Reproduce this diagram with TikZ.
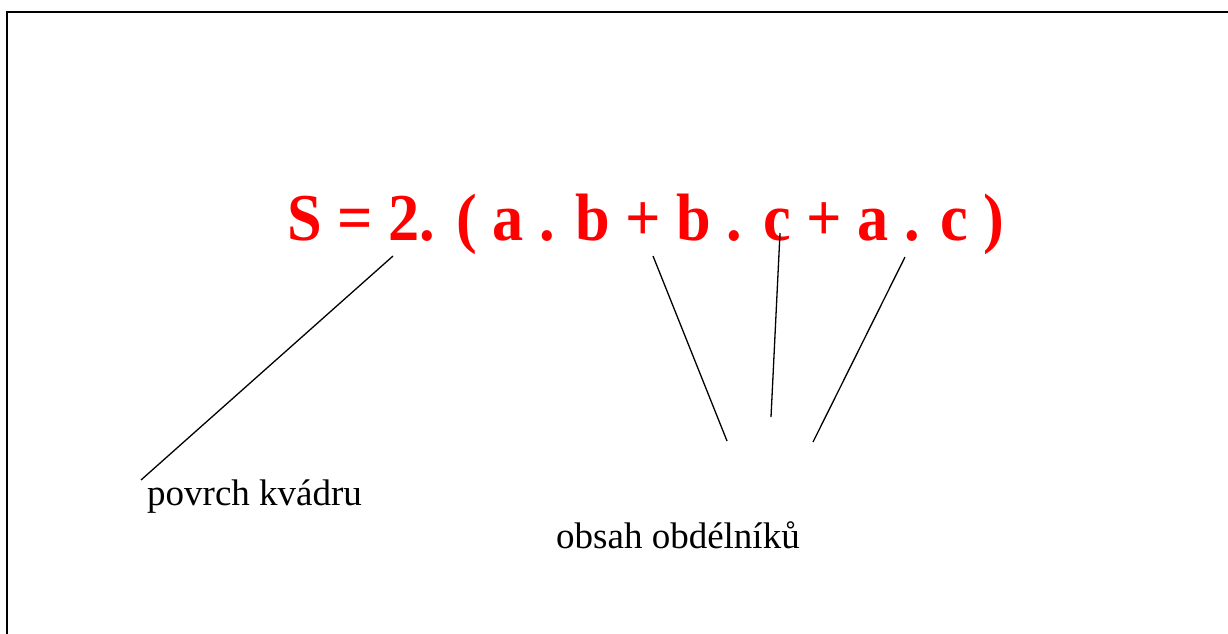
\documentclass[tikz,border=0pt]{standalone}
\usepackage{fontspec}
\setmainfont{Liberation Serif}
\definecolor{formred}{RGB}{255,0,0}
\begin{document}
\begin{tikzpicture}[x=1pt,y=-1pt,
  formula/.style={inner sep=0pt,anchor=base west,text=formred,font=\fontsize{67}{70}\selectfont\bfseries},
  label/.style={inner sep=0pt,anchor=base west,font=\fontsize{37}{40}\selectfont},
  conn/.style={line width=1.3pt},
  frame/.style={line width=2pt}]
\useasboundingbox (0,0) rectangle (1228,633);
\draw[frame] (1229,12) -- (7,12) -- (7,634);
\node[formula] (f) at (287,240) {\scalebox{0.93}[1]{S = 2. ( a . b + b . c + a . c )}};
\node[label] (p) at (147,505) {povrch kvádru};
\node[label] (o) at (556,548) {obsah obdélníků};
\coordinate (f1) at (393,256);
\coordinate (p1) at (141,480);
\coordinate (f2) at (653,256);
\coordinate (o2) at (727,441);
\coordinate (f3) at (780,233);
\coordinate (o3) at (771,417);
\coordinate (f4) at (905,257);
\coordinate (o4) at (813,442);
\draw[conn] (f1) -- (p1);
\draw[conn] (f2) -- (o2);
\draw[conn] (f3) -- (o3);
\draw[conn] (f4) -- (o4);
\end{tikzpicture}
\end{document}
